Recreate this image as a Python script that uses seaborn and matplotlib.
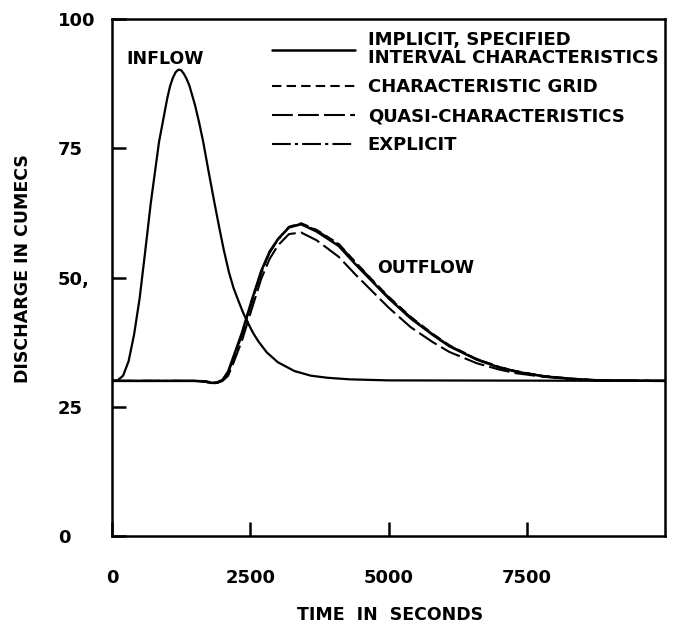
import matplotlib
matplotlib.use("Agg")
import matplotlib.pyplot as plt
import seaborn as sns
import pandas as pd

# ---- data ----
t_in = [0, 100, 200, 300, 400, 500, 600, 700, 850, 1000, 1050, 1100, 1150, 1200,
        1250, 1300, 1350, 1400, 1500, 1575, 1650, 1750, 1850, 1935, 2020, 2115,
        2200, 2300, 2375, 2450, 2550, 2650, 2800, 3000, 3300, 3600, 3900, 4300,
        5000, 10000]
q_in = [30, 30.1, 31.0, 33.8, 39.0, 46.0, 55.0, 64.3, 76.2, 84.7, 87.0, 88.6, 89.7, 90.2,
        90.1, 89.4, 88.4, 87.1, 83.4, 80.0, 76.2, 70.3, 64.6, 59.9, 55.4, 51.0,
        47.9, 45.1, 43.1, 41.4, 39.3, 37.6, 35.5, 33.6, 31.9, 31.0, 30.6, 30.3,
        30.1, 30]

t_out = [0, 1500, 1700, 1800, 1900, 2000, 2100, 2200, 2350, 2530, 2700, 2850, 3000,
         3200, 3420, 3700, 4100, 4400, 4700, 5000, 5400, 5800, 6100, 6600, 7000,
         7300, 7800, 8300, 8800, 10000]
q_implicit = [30, 30, 29.9, 29.6, 29.7, 30.2, 31.8, 34.8, 39.3, 45.7, 51.3, 55.0, 57.4,
              59.7, 60.3, 58.9, 56.1, 52.6, 49.3, 46.0, 42.1, 38.9, 36.7, 34.1, 32.6,
              31.8, 30.9, 30.4, 30.1, 30]
q_chargrid = [30, 30, 29.8, 29.5, 29.6, 30.1, 31.6, 34.6, 39.1, 45.5, 51.1, 54.9, 57.4,
              59.8, 60.5, 59.2, 56.5, 53.0, 49.6, 46.3, 42.4, 39.1, 36.9, 34.2, 32.7,
              31.9, 30.95, 30.45, 30.1, 30]
q_quasi = [30, 30, 29.9, 29.7, 29.6, 30.0, 31.0, 33.6, 37.8, 44.0, 49.8, 53.6, 56.2,
           58.4, 58.7, 57.2, 54.0, 50.6, 47.4, 44.2, 40.4, 37.5, 35.6, 33.4, 32.2,
           31.5, 30.8, 30.35, 30.1, 30]
q_explicit = [30, 30, 29.8, 29.6, 29.7, 30.2, 31.6, 34.4, 38.9, 45.3, 51.0, 54.8, 57.3,
              59.7, 60.4, 59.1, 56.4, 52.9, 49.5, 46.2, 42.3, 39.0, 36.8, 34.2, 32.7,
              31.85, 30.9, 30.4, 30.1, 30]

labels = ["IMPLICIT, SPECIFIED\nINTERVAL CHARACTERISTICS",
          "CHARACTERISTIC GRID",
          "QUASI-CHARACTERISTICS",
          "EXPLICIT"]
x_ticks = [0, 2500, 5000, 7500]
x_ticklabels = ["0", "2500", "5000", "7500"]
y_ticks = [0, 25, 50, 75, 100]
y_ticklabels = ["0", "25", "50,", "75", "100"]

# ---- plotting ----
sns.set_theme(style="white")
plt.rcParams['font.family'] = ['DejaVu Sans']
plt.rcParams['text.color'] = 'black'
plt.rcParams['axes.labelcolor'] = 'black'

fig = plt.figure(figsize=(6.73, 6.25), dpi=100)
ax = fig.add_axes([112/673, 1 - 536/625, (665-112)/673, (536-19)/625])

df_in = pd.DataFrame({"t": t_in, "q": q_in})
sns.lineplot(data=df_in, x="t", y="q", ax=ax, color="black", lw=1.6, legend=False)

styles = [
    dict(ls="-", lw=1.8),
    dict(ls=(0, (4.5, 2.5)), lw=1.5),
    dict(ls=(0, (10, 2.5)), lw=1.5),
    dict(ls=(0, (9, 2, 1.5, 2)), lw=1.5),
]
series = [q_implicit, q_chargrid, q_quasi, q_explicit]
for q, lab, st in zip(series, labels, styles):
    d = pd.DataFrame({"t": t_out, "q": q})
    sns.lineplot(data=d, x="t", y="q", ax=ax, color="black", label=lab, **st)

ax.set_xlim(0, 10000)
ax.set_ylim(0, 100)
ax.set_xticks(x_ticks)
ax.set_xticklabels(x_ticklabels)
ax.set_yticks(y_ticks)
ax.set_yticklabels(y_ticklabels)
ax.tick_params(axis="both", direction="in", length=10, width=1.8, colors="black",
               labelsize=13, bottom=True, left=True, top=False, right=False)
ax.tick_params(axis="x", pad=24)
ax.tick_params(axis="y", pad=39)
for lb in ax.get_yticklabels():
    lb.set_horizontalalignment("left")
    lb.set_fontweight("bold")
for lb in ax.get_xticklabels():
    lb.set_fontweight("bold")

for sp in ax.spines.values():
    sp.set_visible(True)
    sp.set_color("black")
    sp.set_linewidth(1.8)

ax.set_xlabel("TIME  IN  SECONDS", fontsize=12.5, fontweight="bold")
ax.set_ylabel("DISCHARGE IN CUMECS", fontsize=12.5, fontweight="bold")
ax.xaxis.set_label_coords(0.5035, -0.135)
ax.yaxis.set_label_coords(-0.1447, 0.518)

ax.text(967, 92.2, "INFLOW", ha="center", va="center", fontsize=12.5, fontweight="bold")
ax.text(4792, 51.9, "OUTFLOW", ha="left", va="center", fontsize=12.5, fontweight="bold")

leg = ax.legend(loc="upper left", bbox_to_anchor=(0.289, 0.977), frameon=False,
                handlelength=4.6, handletextpad=0.72, borderpad=0, borderaxespad=0,
                labelspacing=0.62, prop={"size": 13, "weight": "bold"})
for t in leg.get_texts():
    t.set_linespacing(1.0)

fig.savefig("out.png", dpi=100, facecolor="white")
